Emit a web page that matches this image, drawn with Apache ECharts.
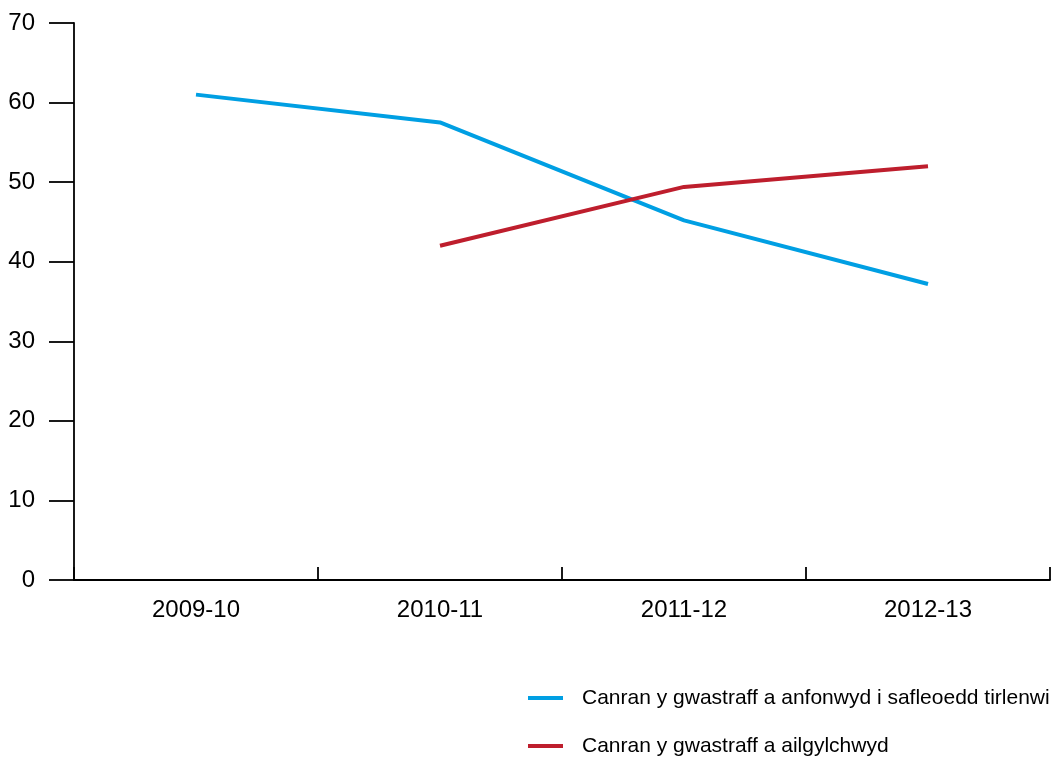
<!DOCTYPE html>
<html>
<head>
<meta charset="utf-8">
<script src="https://cdn.jsdelivr.net/npm/echarts@6/dist/echarts.min.js"></script>
<style>html,body{margin:0;padding:0;background:#fff;}#c{width:1058px;height:758px;}</style>
</head>
<body>
<div id="c"></div>
<script>
var categories = ['2009-10', '2010-11', '2011-12', '2012-13'];
var landfillName = 'Canran y gwastraff a anfonwyd i safleoedd tirlenwi';
var landfill = [61.0, 57.5, 45.2, 37.2];
var recycledName = 'Canran y gwastraff a ailgylchwyd';
var recycled = [null, 42.0, 49.4, 52.0];

var font = 'Liberation Sans, Arial, sans-serif';
var chart = echarts.init(document.getElementById('c'));
chart.setOption({
  animation: false,
  backgroundColor: '#fff',
  grid: { left: 74, right: 8, top: 23, bottom: 178, containLabel: false },
  legend: {
    orient: 'vertical', left: 528, top: 686, padding: 0,
    icon: 'rect', itemWidth: 35, itemHeight: 4, itemGap: 24,
    textStyle: { fontSize: 21, lineHeight: 24, color: '#000', fontFamily: font, padding: [0, 0, 0, 14] },
    data: [landfillName, recycledName]
  },
  xAxis: {
    type: 'category', data: categories, boundaryGap: true,
    axisLine: { show: true, lineStyle: { color: '#000', width: 1.8 } },
    axisTick: { show: true, inside: true, interval: 0, length: 13, lineStyle: { color: '#000', width: 1.8 } },
    axisLabel: { color: '#000', fontSize: 24, fontFamily: font, margin: 18 },
    splitLine: { show: false }
  },
  yAxis: {
    type: 'value', min: 0, max: 70, interval: 10,
    axisLine: { show: true, lineStyle: { color: '#000', width: 1.8 } },
    axisTick: { show: true, length: 25, lineStyle: { color: '#000', width: 1.8 } },
    axisLabel: { color: '#000', fontSize: 24, fontFamily: font, margin: 39 },
    splitLine: { show: false }
  },
  series: [
    { name: landfillName, type: 'line', data: landfill, showSymbol: false,
      color: '#009FE3', lineStyle: { width: 4, color: '#009FE3' } },
    { name: recycledName, type: 'line', data: recycled, showSymbol: false, connectNulls: false,
      color: '#BE1E2D', lineStyle: { width: 4, color: '#BE1E2D' } }
  ]
});
</script>
</body>
</html>
